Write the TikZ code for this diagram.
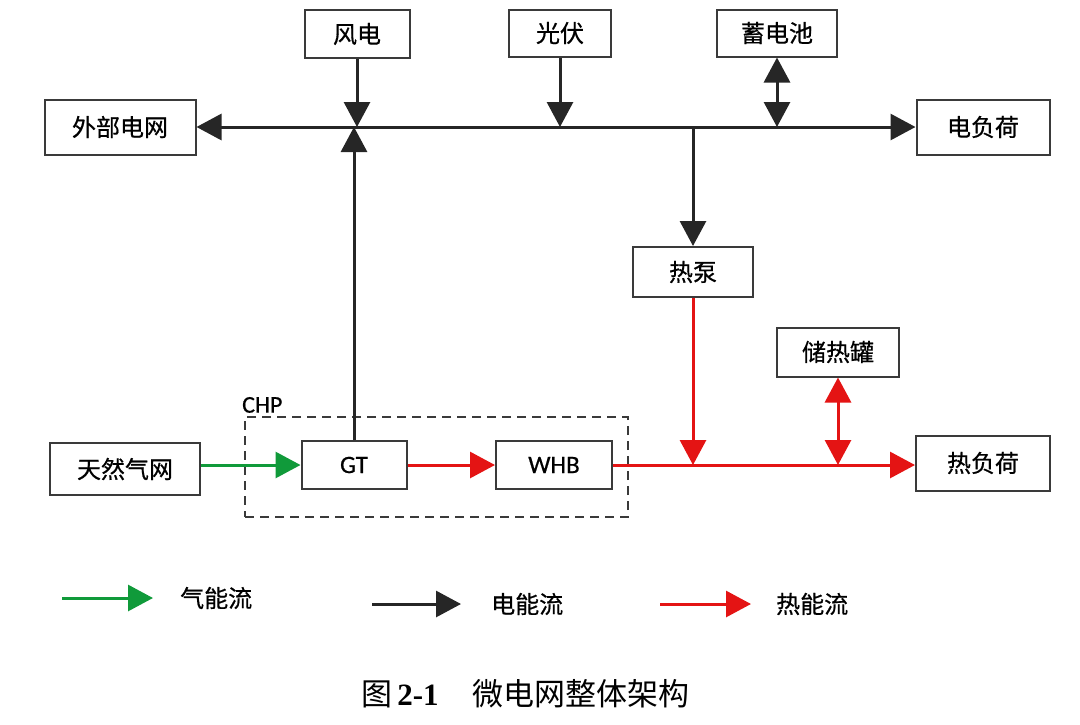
\documentclass[tikz,border=0pt]{standalone}
\usepackage{fontspec}
\setmainfont{Liberation Serif}
\newfontfamily\cjk{Noto Sans CJK SC}[FakeBold=0.6]
\newfontfamily\cjkcap{Noto Sans CJK SC}
\newfontfamily\lat{Carlito}[FakeBold=0.6]
\usetikzlibrary{arrows.meta}
\definecolor{ink}{HTML}{262626}
\definecolor{boxline}{HTML}{3A3A3A}
\definecolor{gasg}{HTML}{109A3A}
\definecolor{heatr}{HTML}{E41414}
\tikzset{
  blk/.style={draw=boxline,line width=2pt,fill=white,inner sep=0pt,font=\cjk\fontsize{24}{28}\selectfont,text=black},
  tip/.style={-{Triangle[length=25pt,width=26pt]}},
  dtip/.style={{Triangle[length=25pt,width=26pt]}-{Triangle[length=25pt,width=26pt]}},
  eflow/.style={draw=ink,line width=3pt},
  hflow/.style={draw=heatr,line width=3pt},
  gflow/.style={draw=gasg,line width=3pt},
  lab/.style={font=\cjk\fontsize{24}{28}\selectfont,anchor=west,inner sep=0pt}
}
\begin{document}
\begin{tikzpicture}[x=1pt,y=-1pt]
\useasboundingbox (0,0) rectangle (1080,724);
% nodes
\node[blk,minimum width=105pt,minimum height=48pt] (wind) at (357,34) {风电};
\node[blk,minimum width=102pt,minimum height=47pt] (pv) at (560,33) {光伏};
\node[blk,minimum width=120pt,minimum height=47pt] (bat) at (777,33) {蓄电池};
\node[blk,minimum width=151pt,minimum height=55pt] (grid) at (120,127) {外部电网};
\node[blk,minimum width=133pt,minimum height=55pt] (eload) at (983,127) {电负荷};
\node[blk,minimum width=120pt,minimum height=50pt] (hp) at (693,272) {热泵};
\node[blk,minimum width=122pt,minimum height=49pt] (tank) at (838,352) {储热罐};
\node[blk,minimum width=150pt,minimum height=52pt] (gas) at (125,469) {天然气网};
\node[blk,minimum width=134pt,minimum height=55pt] (hload) at (983,463) {热负荷};
% CHP dashed box
\node[draw=boxline,line width=2pt,dash pattern=on 9pt off 6pt,minimum width=383pt,minimum height=100pt,inner sep=0pt] (chp) at (436.5,467) {};
\node[font=\lat\fontsize{24}{28}\selectfont,anchor=south west,inner sep=0pt] (chpl) at (242,413) {CHP};
\node[blk,minimum width=105pt,minimum height=48pt,font=\lat\fontsize{25}{28}\selectfont] (gt) at (354,465) {GT};
\node[blk,minimum width=116pt,minimum height=48pt,font=\lat\fontsize{25}{28}\selectfont] (whb) at (554,465) {WHB};
% bus coordinates
\coordinate (J) at (gt.north |- grid.east);
\coordinate (pvj) at (pv.south |- grid.east);
\coordinate (batj) at (bat.south |- grid.east);
\coordinate (hpj) at (hp.north |- grid.east);
\coordinate (hph) at (hp.south |- gt.east);
\coordinate (tankh) at (tank.south |- gt.east);
% electric
\draw[eflow,dtip] (grid.east) -- (eload.west);
\draw[eflow,tip] (wind.south) -- (wind.south |- grid.east);
\draw[eflow,tip] (gt.north) -- (J);
\draw[eflow,tip] (pv.south) -- (pvj);
\draw[eflow,dtip] (bat.south) -- (batj);
\draw[eflow,tip] (hpj) -- (hp.north);
% heat
\draw[hflow,tip] (gt.east) -- (whb.west);
\draw[hflow,tip] (whb.east) -- (whb.east -| hload.west);
\draw[hflow,tip] (hp.south) -- (hph);
\draw[hflow,dtip] (tank.south) -- (tankh);
% gas
\draw[gflow,tip] (gas.east |- gt.west) -- (gt.west);
% legend
\coordinate (lg1) at (62,598);
\coordinate (lg2) at (153,598);
\draw[gflow,tip] (lg1) -- (lg2);
\node[lab] (lgt) at (180,598) {气能流};
\coordinate (le1) at (372,604);
\coordinate (le2) at (461,604);
\draw[eflow,tip] (le1) -- (le2);
\node[lab] (let) at (491,604) {电能流};
\coordinate (lh1) at (660,604);
\coordinate (lh2) at (751,604);
\draw[hflow,tip] (lh1) -- (lh2);
\node[lab] (lht) at (776,604) {热能流};
% caption
\node[anchor=west,inner sep=0pt,font=\fontsize{31}{35}\selectfont] (cap) at (361,694) {{\cjkcap 图}\,\textbf{2-1}\hspace{34pt}{\cjkcap 微电网整体架构}};
\end{tikzpicture}
\end{document}
